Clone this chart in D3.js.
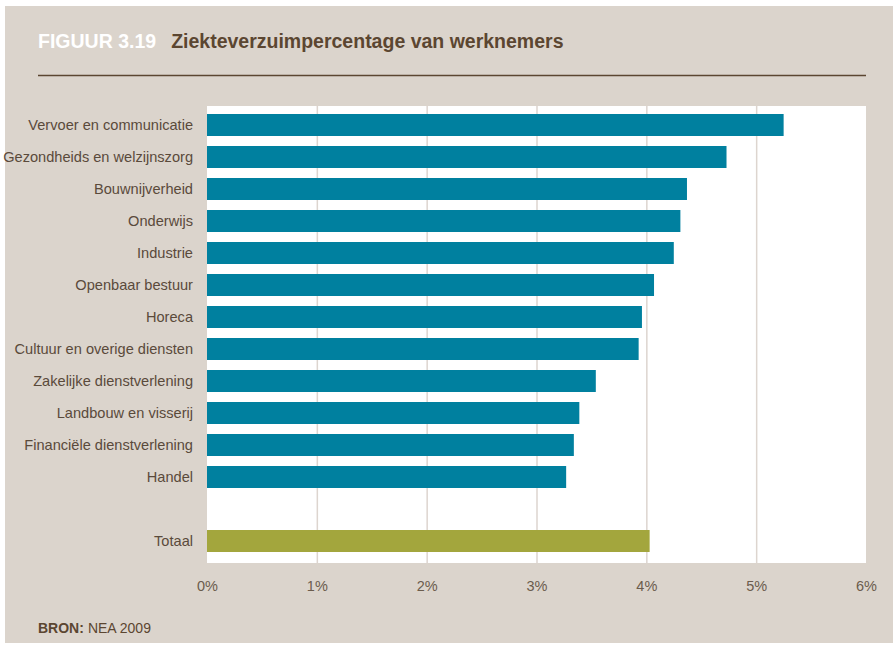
<!DOCTYPE html>
<html>
<head>
<meta charset="utf-8">
<script src="https://cdn.jsdelivr.net/npm/d3@7"></script>
<style>
  body { margin: 0; background: #fff; }
  svg { display: block; }
</style>
</head>
<body>
<script>
// sectors, top to bottom, plus the overall total
var sectors = ["Vervoer en communicatie", "Gezondheids en welzijnszorg", "Bouwnijverheid",
  "Onderwijs", "Industrie", "Openbaar bestuur", "Horeca", "Cultuur en overige diensten",
  "Zakelijke dienstverlening", "Landbouw en visserij", "Financiële dienstverlening", "Handel"];
var sectorValues = [5.25, 4.73, 4.37, 4.31, 4.25, 4.07, 3.96, 3.93, 3.54, 3.39, 3.34, 3.27];
var totalLabel = "Totaal";
var totalValue = 4.03;
var xTicks = [0, 1, 2, 3, 4, 5, 6];

var W = 893, H = 645;
var plot = {left: 207, right: 866, top: 106, bottom: 563};

var svg = d3.select("body").append("svg")
  .attr("width", W)
  .attr("height", H);

// beige panel
svg.append("rect")
  .attr("x", 5).attr("y", 6)
  .attr("width", W - 5).attr("height", 637)
  .attr("fill", "#dbd4cc");

// title
var title = svg.append("text")
  .attr("x", 38).attr("y", 48)
  .style("font-family", "'Liberation Sans', Arial, sans-serif")
  .style("font-weight", "bold")
  .style("font-size", "19.5px");
title.append("tspan").attr("fill", "#ffffff").text("FIGUUR 3.19");
title.append("tspan").attr("fill", "#5b4631").attr("dx", 15).text("Ziekteverzuimpercentage van werknemers");

svg.append("line")
  .attr("x1", 38).attr("x2", 866)
  .attr("y1", 75.5).attr("y2", 75.5)
  .attr("stroke", "#5b4631").attr("stroke-width", 1.5);

// white plot area
svg.append("rect")
  .attr("x", plot.left).attr("y", plot.top)
  .attr("width", plot.right - plot.left).attr("height", plot.bottom - plot.top)
  .attr("fill", "#ffffff");

var rows = sectors.map(function(s, i) { return {name: s, value: sectorValues[i], total: false}; });
rows.push({name: "", value: null, total: false});   // empty slot before the total
rows.push({name: totalLabel, value: totalValue, total: true});

var x = d3.scaleLinear().domain([0, 6]).range([plot.left, plot.right]);
var y = d3.scaleBand()
  .domain(d3.range(rows.length))
  .range([109, 109 + rows.length * 32])
  .paddingInner(10 / 32)
  .paddingOuter(5 / 32);

// gridlines
svg.selectAll(".grid")
  .data(xTicks.slice(1, -1))
  .enter().append("line")
  .attr("class", "grid")
  .attr("x1", function(d) { return x(d) + 0.5; })
  .attr("x2", function(d) { return x(d) + 0.5; })
  .attr("y1", plot.top).attr("y2", plot.bottom)
  .attr("stroke", "#ddd5cf").attr("stroke-width", 1.5);

// bars
svg.selectAll(".bar")
  .data(rows.filter(function(d) { return d.value != null; }))
  .enter().append("rect")
  .attr("class", "bar")
  .attr("x", x(0))
  .attr("y", function(d) { return y(rows.indexOf(d)); })
  .attr("width", function(d) { return x(d.value) - x(0); })
  .attr("height", y.bandwidth())
  .attr("fill", function(d) { return d.total ? "#a3a63d" : "#00809f"; });

// category labels
svg.selectAll(".cat")
  .data(rows)
  .enter().append("text")
  .attr("class", "cat")
  .attr("x", 193)
  .attr("y", function(d, i) { return y(i) + y.bandwidth() / 2; })
  .attr("dy", "0.35em")
  .attr("text-anchor", "end")
  .attr("fill", "#5a4a3b")
  .style("font-family", "'Liberation Sans', Arial, sans-serif")
  .style("font-size", "14.6px")
  .text(function(d) { return d.name; });

// x axis labels
var xAxis = d3.axisBottom(x)
  .tickValues(xTicks)
  .tickSize(0)
  .tickPadding(0)
  .tickFormat(function(d) { return d + "%"; });

var gx = svg.append("g")
  .attr("transform", "translate(0,581)")
  .call(xAxis);
gx.select(".domain").remove();
gx.selectAll("text")
  .attr("fill", "#6b5c4c")
  .style("font-family", "'Liberation Sans', Arial, sans-serif")
  .style("font-size", "14.5px");

// source
var src = svg.append("text")
  .attr("x", 38).attr("y", 633)
  .attr("fill", "#5b4631")
  .style("font-family", "'Liberation Sans', Arial, sans-serif")
  .style("font-size", "14px");
src.append("tspan").style("font-weight", "bold").text("BRON:");
src.append("tspan").attr("dx", 4).text("NEA 2009");
</script>
</body>
</html>
